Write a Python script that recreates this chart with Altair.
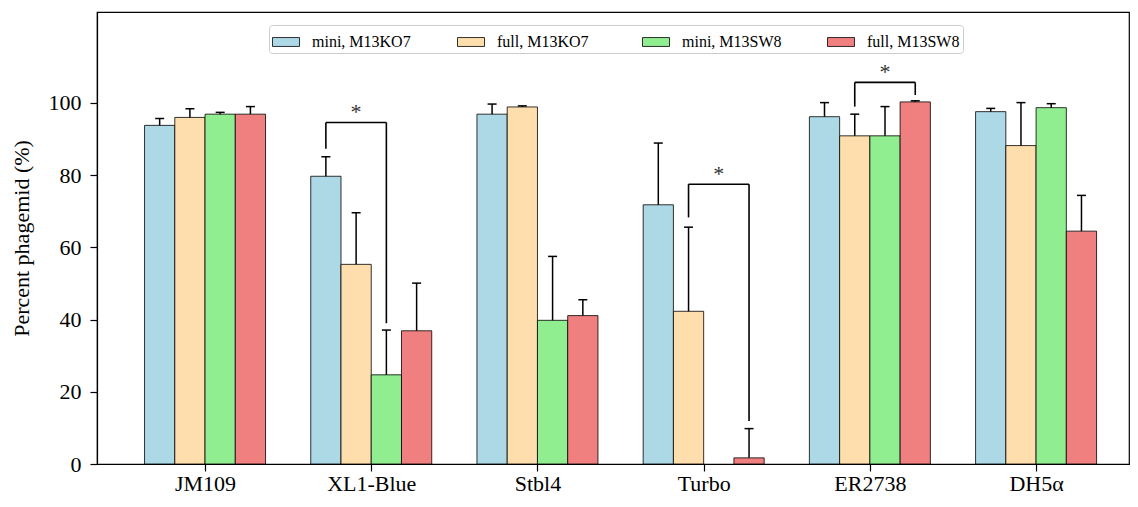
import json
import altair as alt
import pandas as pd

# ---------------- data ----------------
strains = ["JM109", "XL1-Blue", "Stbl4", "Turbo", "ER2738", "DH5α"]
series = ["mini, M13KO7", "full, M13KO7", "mini, M13SW8", "full, M13SW8"]
colors = ["#add8e6", "#ffdead", "#90ee90", "#f08080"]

mini_ko7 = [93.8, 79.7, 96.9, 71.8, 96.2, 97.6]
mini_ko7_err = [1.9, 5.4, 2.8, 17.1, 3.9, 0.9]
full_ko7 = [96.0, 55.3, 98.9, 42.3, 90.9, 88.2]
full_ko7_err = [2.4, 14.3, 0.3, 23.3, 6.0, 11.9]
mini_sw8 = [96.9, 24.7, 39.8, 0.0, 90.9, 98.7]
mini_sw8_err = [0.5, 12.4, 17.7, 0.0, 8.1, 1.1]
full_sw8 = [96.9, 36.9, 41.1, 1.7, 100.3, 64.5]
full_sw8_err = [2.1, 13.2, 4.4, 8.1, 0.3, 9.9]

# significance brackets
sig_strain = ["XL1-Blue", "Turbo", "ER2738"]
sig_left = ["mini, M13KO7", "full, M13KO7", "full, M13KO7"]
sig_right = ["mini, M13SW8", "full, M13SW8", "full, M13SW8"]
sig_left_end = [87.3, 68.3, 99.0]
sig_right_end = [39.0, 11.9, 102.2]
sig_top = [94.6, 77.5, 105.7]

# ---------------- tables ----------------
BW = 0.182  # bar width in group units
values = [mini_ko7, full_ko7, mini_sw8, full_sw8]
errors = [mini_ko7_err, full_ko7_err, mini_sw8_err, full_sw8_err]

rows = []
for j, s in enumerate(series):
    for i, st in enumerate(strains):
        pos = i + (j - 1.5) * BW
        rows.append(dict(strain=st, series=s, pos=pos, x0=pos - BW / 2, x1=pos + BW / 2,
                         value=values[j][i], err=errors[j][i], top=values[j][i] + errors[j][i]))
df = pd.DataFrame(rows)


def xpos(strain, s):
    return strains.index(strain) + (series.index(s) - 1.5) * BW


segs = []
stars = []
for k in range(len(sig_strain)):
    xl = xpos(sig_strain[k], sig_left[k])
    xr = xpos(sig_strain[k], sig_right[k])
    segs.append(dict(x=xl, x2=xl, y=sig_left_end[k], y2=sig_top[k]))
    segs.append(dict(x=xr, x2=xr, y=sig_right_end[k], y2=sig_top[k]))
    segs.append(dict(x=xl, x2=xr, y=sig_top[k], y2=sig_top[k]))
    stars.append(dict(x=(xl + xr) / 2, y=sig_top[k]))
seg_df = pd.DataFrame(segs)
star_df = pd.DataFrame(stars)

FONT = "Liberation Serif"
xscale = alt.Scale(domain=[-0.650, 5.559], nice=False, zero=False, padding=0)
yscale = alt.Scale(domain=[0, 125.2], nice=False, zero=True, padding=0)

label_expr = json.dumps(strains) + "[datum.value]"

xaxis = alt.Axis(values=list(range(len(strains))), labelExpr=label_expr, title=None,
                 grid=False, tickSize=7, labelPadding=2, labelFontSize=22)
yaxis = alt.Axis(values=[0, 20, 40, 60, 80, 100], title="Percent phagemid (%)",
                 grid=False, tickSize=7, labelPadding=9, labelFontSize=22,
                 titleFontSize=22, titleFontWeight="normal", titlePadding=15, format="d")

bars = alt.Chart(df).transform_filter("datum.value > 0").mark_bar(
    stroke="black", strokeWidth=0.8, opacity=1).encode(
    x=alt.X("x0:Q", scale=xscale, axis=xaxis),
    x2="x1:Q",
    y=alt.Y("value:Q", scale=yscale, axis=yaxis),
    y2=alt.datum(0),
    color=alt.Color("series:N", scale=alt.Scale(domain=series, range=colors), sort=series,
                    legend=alt.Legend(title=None, orient="none", legendX=172, legendY=13,
                                      direction="horizontal", columns=4, gridAlign="all",
                                      symbolType="M-1,-0.33H1V0.33H-1Z", symbolSize=729,
                                      symbolStrokeColor="black", symbolStrokeWidth=0.8,
                                      symbolOpacity=1,
                                      labelFont=FONT, labelFontSize=16, labelColor="black",
                                      labelOffset=12, columnPadding=43, padding=3,
                                      strokeColor="#cccccc", fillColor="white",
                                      cornerRadius=3)),
)

err_df = df[df["err"] > 0]
errs = alt.Chart(err_df).mark_rule(color="black", strokeWidth=1.5).encode(
    x=alt.X("pos:Q", scale=xscale),
    y=alt.Y("value:Q", scale=yscale),
    y2="top:Q",
)
caps = alt.Chart(err_df).mark_tick(orient="horizontal", size=9, thickness=1.5,
                                   color="black", opacity=1).encode(
    x=alt.X("pos:Q", scale=xscale),
    y=alt.Y("top:Q", scale=yscale),
)

brackets = alt.Chart(seg_df).mark_rule(color="black", strokeWidth=1.6).encode(
    x=alt.X("x:Q", scale=xscale),
    x2="x2:Q",
    y=alt.Y("y:Q", scale=yscale),
    y2="y2:Q",
)
asterisks = alt.Chart(star_df).mark_text(text="*", font=FONT, fontSize=22, color="#333333",
                                         baseline="alphabetic", dy=-3).encode(
    x=alt.X("x:Q", scale=xscale),
    y=alt.Y("y:Q", scale=yscale),
)

chart = alt.layer(bars, errs, caps, brackets, asterisks).properties(
    width=1032, height=452,
    autosize=alt.AutoSizeParams(type="none"),
    padding={"left": 89, "top": 4, "right": 1, "bottom": 35},
).configure_view(stroke="black", strokeWidth=1.2).configure_axis(
    domainColor="black", domainWidth=1.2, tickColor="black", tickWidth=1.2,
    labelColor="black", titleColor="black", labelFont=FONT, titleFont=FONT,
)

chart.save("out.html", embed_options={"renderer": "svg", "actions": False})
